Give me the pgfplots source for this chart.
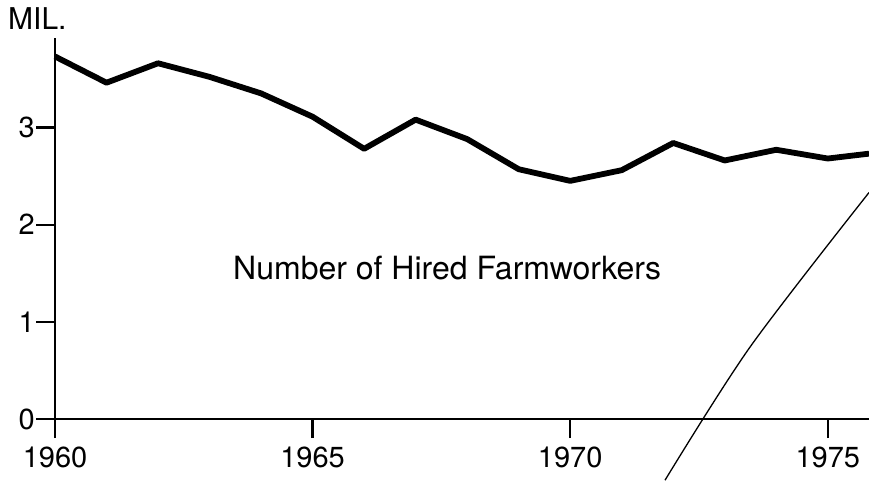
\documentclass[border=0pt]{standalone}
\usepackage{fontspec}
\setmainfont{TeX Gyre Heros}
\usepackage{pgfplots}
\pgfplotsset{compat=1.18}
\begin{document}
\begin{tikzpicture}
\begin{axis}[
  at={(55pt,61pt)}, anchor=south west,
  scale only axis, width=814pt, height=381pt,
  xmin=1960, xmax=1975.8, ymin=0, ymax=3.92,
  axis x line*=bottom, axis y line*=left,
  axis line style={line width=2.6pt, black},
  xtick={1960,1965,1970,1975}, ytick={0,1,2,3},
  tick style={line width=2.2pt, black},
  major tick length=19pt, tick align=outside,
  /pgf/number format/assume math mode=true,
  /pgf/number format/1000 sep={},
  tick label style={font=\fontsize{29}{29}\selectfont, inner sep=1pt},
  xticklabel style={yshift=-8pt},
  clip=false,
]
\addplot[black, line width=5.8pt, line join=round] coordinates {
 (1960,3.73) (1961,3.46) (1962,3.66) (1963,3.52) (1964,3.35) (1965,3.11)
 (1966,2.78) (1967,3.08) (1968,2.88) (1969,2.57) (1970,2.45) (1971,2.56)
 (1972,2.84) (1973,2.66) (1974,2.77) (1975,2.68) (1975.8,2.73)
};
\addplot[black, line width=1.3pt, smooth] coordinates {
 (1971.84,-0.63) (1973.49,0.74) (1975.8,2.33)
};
\end{axis}
\node[anchor=base west, inner sep=0pt, font=\fontsize{30}{30}\selectfont] at (8pt,450pt) {MIL.};
\node[anchor=base west, inner sep=0pt, font=\fontsize{32}{32}\selectfont] at (233pt,201pt) {Number of Hired Farmworkers};
\pgfresetboundingbox
\useasboundingbox (0,0) rectangle (869pt,480pt);
\end{tikzpicture}
\end{document}
